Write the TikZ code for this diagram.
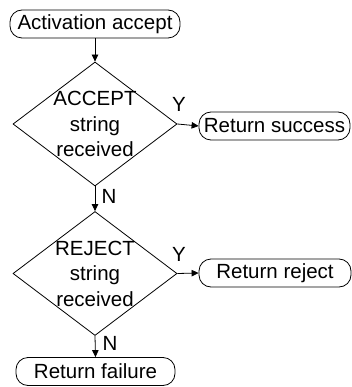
\documentclass[tikz,border=0pt]{standalone}
\usepackage{fontspec}
\setmainfont{Liberation Sans}
\usetikzlibrary{shapes.geometric,arrows.meta}
\begin{document}
\begin{tikzpicture}[x=1pt,y=-1pt,
  every node/.style={font=\fontsize{20.5}{25.5}\selectfont},
  term/.style={draw,line width=0.8pt,rounded corners=12pt,inner sep=0pt,
    minimum height=28pt},
  decision/.style={draw,diamond,line width=0.8pt,inner sep=0pt,
    minimum width=164pt,minimum height=124pt},
  qtext/.style={align=center,inner sep=0pt},
  tag/.style={inner sep=0pt},
  flow/.style={draw,line width=0.8pt,-{Triangle[length=7pt,width=6.5pt]}}]
\useasboundingbox (0,0) rectangle (352,387);

% terminals
\node[term,minimum width=170pt] (start) at (95,24) {Activation accept};
\node[term,minimum width=151pt] (succ) at (274.5,126) {Return success};
\node[term,minimum width=152pt] (rej) at (275,273) {Return reject};
\node[term,minimum width=159pt] (fail) at (95.5,371.5) {Return failure};

% decisions
\node[decision] (d1) at (95,124) {};
\node[qtext] (q1) at (95,124) {ACCEPT\\string\\received};
\node[decision] (d2) at (95,273.5) {};
\node[qtext] (q2) at (95,273.5) {REJECT\\string\\received};

% branch tags
\node[tag] (y1) at (179,104) {Y};
\node[tag] (n1) at (109,196) {N};
\node[tag] (y2) at (179,254) {Y};
\node[tag] (n2) at (110,343) {N};

% connectors
\draw[flow] (start) -- (d1.north);
\draw[flow] (d1.east) -- (succ.west);
\draw[flow] (d1.south) -- (d2.north);
\draw[flow] (d2.east) -- (rej.west);
\draw[flow] (d2.south) -- (fail.north);
\end{tikzpicture}
\end{document}
